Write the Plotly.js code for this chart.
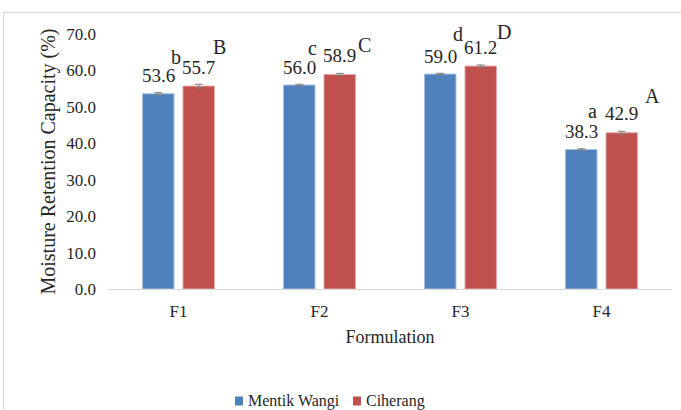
<!DOCTYPE html>
<html>
<head>
<meta charset="utf-8">
<script src="https://cdn.plot.ly/plotly-3.0.1.min.js"></script>
<style>html,body{margin:0;padding:0;background:#fff;}#chart{width:681px;height:410px;}</style>
</head>
<body>
<div id="chart"></div>
<script>
// ---- data ----
const categories = ['F1', 'F2', 'F3', 'F4'];
const seriesNames = ['Mentik Wangi', 'Ciherang'];
const mentikWangi = [53.6, 56.0, 59.0, 38.3];
const ciherang = [55.7, 58.9, 61.2, 42.9];
const mentikErr = [0.3, 0.2, 0.2, 0.2];
const ciherangErr = [0.5, 0.3, 0.3, 0.4];
const mentikLetters = ['b', 'c', 'd', 'a'];
const ciherangLetters = ['B', 'C', 'D', 'A'];
const yTickValues = [0, 10, 20, 30, 40, 50, 60, 70];

// ---- style / layout ----
const FONT = 'Liberation Serif';
const TXT = '#262626';
const COLORS = ['#4F81BD', '#C0504D'];
const BARGAP = 0.426;
const GROUPGAP = 0.222;
const off = (1 - BARGAP) / 4; // bar centre offset in category units
const mentikLetterDx = [18, 13, 18, 11];
const mentikLetterDy = [37, 37, 40, 38];
const ciherangLetterDx = [21, 25, 23, 31];
const ciherangLetterDy = [39, 29, 34, 37];

const errStyle = {type: 'data', visible: true, color: '#7f7f7f', thickness: 1, width: 4};

const traces = [
  {
    type: 'bar', name: seriesNames[0], x: categories, y: mentikWangi,
    marker: {color: COLORS[0], line: {color: '#a9c1e0', width: 1}},
    error_y: Object.assign({array: mentikErr}, errStyle),
    hoverinfo: 'none'
  },
  {
    type: 'bar', name: seriesNames[1], x: categories, y: ciherang,
    marker: {color: COLORS[1], line: {color: '#e2a9a8', width: 1}},
    error_y: Object.assign({array: ciherangErr}, errStyle),
    hoverinfo: 'none'
  }
];

const W = 681, H = 410, ML = 108, MR = 9, MT = 34, MB = 121;
const pw = W - ML - MR, ph = H - MT - MB;
const px2x = p => (p - ML) / pw;
const px2y = p => (H - MB - p) / ph;

const annotations = [];
categories.forEach((c, i) => {
  annotations.push({x: i - off, y: mentikWangi[i], xref: 'x', yref: 'y', text: mentikWangi[i].toFixed(1),
    showarrow: false, yanchor: 'middle', yshift: 18, font: {family: FONT, size: 19, color: TXT}});
  annotations.push({x: i + off, y: ciherang[i], xref: 'x', yref: 'y', text: ciherang[i].toFixed(1),
    showarrow: false, yanchor: 'middle', yshift: 19, font: {family: FONT, size: 19, color: TXT}});
  annotations.push({x: i - off, y: mentikWangi[i], xref: 'x', yref: 'y', text: mentikLetters[i],
    showarrow: false, yanchor: 'middle', xshift: mentikLetterDx[i], yshift: mentikLetterDy[i],
    font: {family: FONT, size: 20, color: TXT}});
  annotations.push({x: i + off, y: ciherang[i], xref: 'x', yref: 'y', text: ciherangLetters[i],
    showarrow: false, yanchor: 'middle', xshift: ciherangLetterDx[i], yshift: ciherangLetterDy[i],
    font: {family: FONT, size: 20, color: TXT}});
});

// manual legend (kept inside the figure so it does not push margins)
const legendSquareX = [235, 353];
const legendY = 401;
const shapes = [{
  type: 'rect', xref: 'paper', yref: 'paper', layer: 'below',
  x0: px2x(3.5), x1: px2x(700), y0: px2y(430), y1: px2y(12.5),
  line: {color: '#d9d9d9', width: 1}, fillcolor: 'rgba(0,0,0,0)'
}];
seriesNames.forEach((n, k) => {
  shapes.push({type: 'rect', xref: 'paper', yref: 'paper',
    x0: px2x(legendSquareX[k]), x1: px2x(legendSquareX[k] + 8),
    y0: px2y(legendY + 4.5), y1: px2y(legendY - 4.5),
    line: {width: 0}, fillcolor: COLORS[k]});
  annotations.push({xref: 'paper', yref: 'paper', x: px2x(legendSquareX[k] + 11), y: px2y(legendY),
    xanchor: 'left', yanchor: 'middle', text: n, showarrow: false,
    font: {family: FONT, size: 16, color: TXT}});
});

const layout = {
  width: W, height: H,
  margin: {l: ML, r: MR, t: MT, b: MB, pad: 0},
  paper_bgcolor: '#ffffff', plot_bgcolor: '#ffffff',
  font: {family: FONT, size: 17, color: TXT},
  barmode: 'group', bargap: BARGAP, bargroupgap: GROUPGAP,
  showlegend: false,
  xaxis: {
    type: 'category', showgrid: false, zeroline: false, showline: true,
    linecolor: '#d9d9d9', linewidth: 1, ticks: '', ticklabelstandoff: 7,
    tickfont: {family: FONT, size: 17, color: TXT},
    title: {text: 'Formulation', font: {family: FONT, size: 18, color: TXT}, standoff: 9},
    automargin: false, fixedrange: true
  },
  yaxis: {
    range: [0, 70], tickvals: yTickValues, tickformat: '.1f', showgrid: false,
    zeroline: false, showline: false, ticks: '', ticklabelstandoff: 11,
    tickfont: {family: FONT, size: 17, color: TXT},
    title: {text: 'Moisture Retention Capacity (%)', font: {family: FONT, size: 20, color: TXT}, standoff: 5},
    automargin: false, fixedrange: true
  },
  annotations: annotations,
  shapes: shapes
};

Plotly.newPlot('chart', traces, layout, {displayModeBar: false, staticPlot: true});
</script>
</body>
</html>
